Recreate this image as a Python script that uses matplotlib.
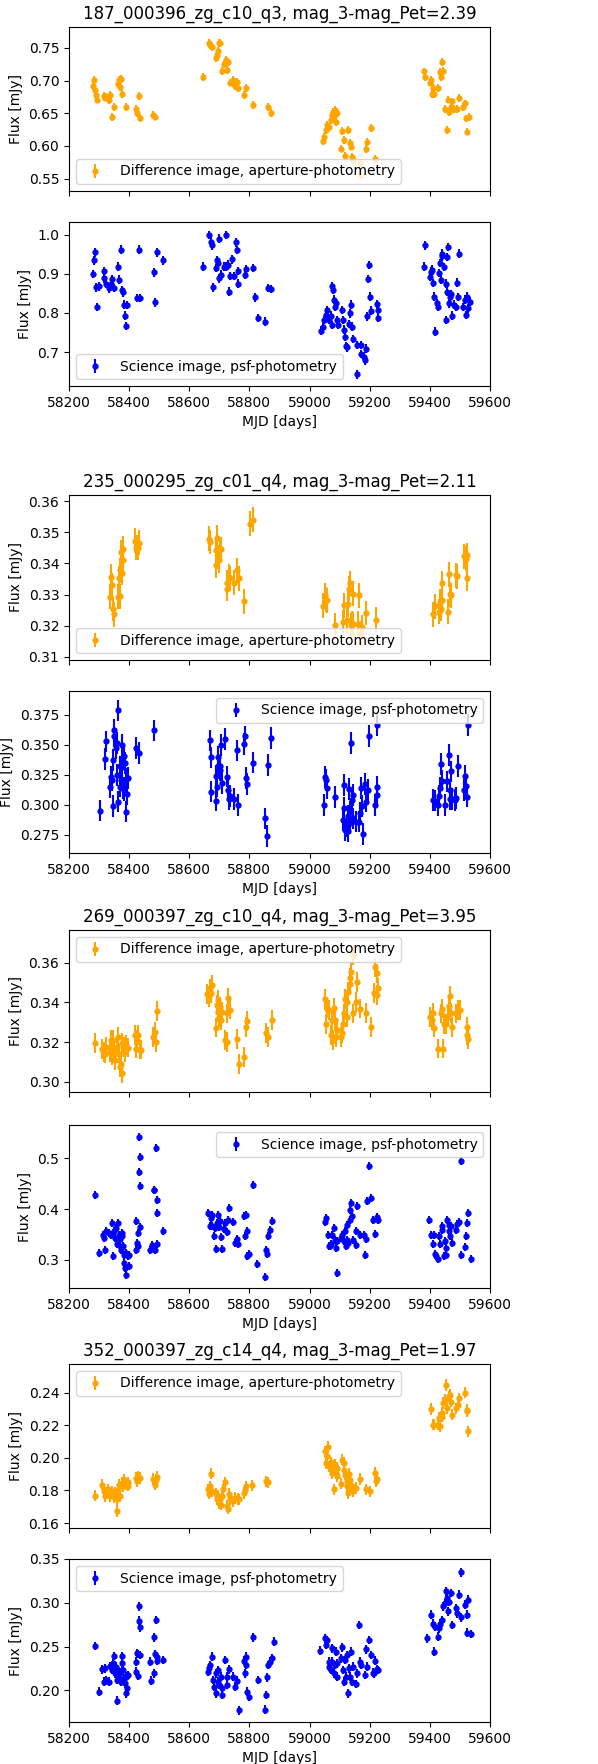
import matplotlib
matplotlib.use("Agg")
import matplotlib.pyplot as plt
from matplotlib.ticker import MultipleLocator

titles = [
    "187_000396_zg_c10_q3, mag_3-mag_Pet=2.39",
    "235_000295_zg_c01_q4, mag_3-mag_Pet=2.11",
    "269_000397_zg_c10_q4, mag_3-mag_Pet=3.95",
    "352_000397_zg_c14_q4, mag_3-mag_Pet=1.97",
]
diff_label = "Difference image, aperture-photometry"
sci_label = "Science image, psf-photometry"

# --- source 187 ---
p1_mjd = ([58281, 58283, 58288, 58291, 58293, 58315, 58320, 58324, 58332, 58335, 58342, 58351, 58363, 58366,
           58368, 58374, 58377, 58390, 58424, 58427, 58433, 58437, 58480, 58486]
          + [58646, 58666, 58670, 58675, 58688, 58693, 58696, 58699, 58701, 58709, 58715, 58721, 58726, 58730,
             58736, 58744, 58748, 58752, 58759, 58763, 58781, 58787, 58811, 58862, 58871]
          + [59043, 59047, 59054, 59058, 59065, 59070, 59074, 59077, 59082, 59085, 59089, 59092, 59106, 59109,
             59113, 59117, 59129, 59134, 59138, 59142, 59145, 59167, 59170, 59187, 59190, 59203, 59216]
          + [59380, 59385, 59401, 59405, 59408, 59411, 59415, 59428, 59433, 59437, 59440, 59444, 59451, 59456,
             59460, 59465, 59469, 59474, 59479, 59491, 59496, 59511, 59517, 59521, 59524, 59529])
p1_flux = ([0.691, 0.701, 0.685, 0.678, 0.671, 0.676, 0.674, 0.675, 0.670, 0.678, 0.644, 0.659, 0.694, 0.701,
            0.690, 0.702, 0.679, 0.659, 0.657, 0.650, 0.677, 0.643, 0.647, 0.645]
           + [0.705, 0.758, 0.755, 0.752, 0.734, 0.739, 0.746, 0.757, 0.758, 0.715, 0.726, 0.731, 0.716, 0.729,
              0.697, 0.701, 0.695, 0.691, 0.698, 0.689, 0.678, 0.688, 0.662, 0.660, 0.650]
           + [0.607, 0.614, 0.624, 0.632, 0.629, 0.640, 0.647, 0.652, 0.644, 0.655, 0.637, 0.650, 0.596, 0.623,
              0.609, 0.585, 0.624, 0.604, 0.599, 0.583, 0.579, 0.574, 0.555, 0.595, 0.606, 0.628, 0.580]
           + [0.714, 0.706, 0.697, 0.701, 0.680, 0.689, 0.680, 0.688, 0.713, 0.706, 0.729, 0.715, 0.657, 0.624,
              0.671, 0.652, 0.660, 0.668, 0.656, 0.656, 0.673, 0.659, 0.665, 0.642, 0.622, 0.644])
p1_err = 0.006

p2_mjd = ([58280, 58283, 58286, 58291, 58294, 58299, 58315, 58318, 58322, 58332, 58339, 58344, 58351, 58362,
           58366, 58372, 58375, 58380, 58384, 58387, 58389, 58392, 58427, 58435, 58433, 58482, 58486, 58491, 58511]
          + [58647, 58667, 58671, 58675, 58680, 58688, 58692, 58696, 58698, 58700, 58707, 58714, 58721, 58723,
             58728, 58731, 58736, 58742, 58748, 58755, 58759, 58763, 58763, 58785, 58788, 58811, 58820, 58828,
             58852, 58862, 58872]
          + [59038, 59043, 59047, 59054, 59058, 59065, 59070, 59074, 59076, 59077, 59082, 59085, 59089, 59092,
             59096, 59107, 59112, 59115, 59119, 59121, 59123, 59130, 59134, 59137, 59140, 59145, 59157, 59158,
             59170, 59172, 59180, 59185, 59187, 59190, 59194, 59197, 59202, 59204, 59223, 59226, 59229]
          + [59381, 59385, 59400, 59403, 59407, 59411, 59413, 59418, 59425, 59428, 59431, 59433, 59436, 59439,
             59442, 59446, 59455, 59455, 59457, 59459, 59458, 59462, 59467, 59471, 59474, 59479, 59486, 59489,
             59492, 59496, 59511, 59517, 59521, 59524, 59527, 59532])
p2_flux = ([0.900, 0.935, 0.955, 0.866, 0.815, 0.868, 0.889, 0.908, 0.875, 0.863, 0.875, 0.887, 0.864, 0.919,
            0.885, 0.962, 0.859, 0.853, 0.821, 0.793, 0.767, 0.820, 0.838, 0.838, 0.962, 0.904, 0.827, 0.955, 0.935]
           + [0.919, 1.000, 0.981, 0.973, 0.866, 0.915, 0.935, 0.928, 0.990, 0.889, 0.898, 0.919, 0.919, 1.000,
              0.924, 0.855, 0.895, 0.937, 0.895, 0.981, 0.961, 0.908, 0.875, 0.898, 0.913, 0.915, 0.840, 0.787,
              0.778, 0.864, 0.861]
           + [0.755, 0.763, 0.782, 0.795, 0.808, 0.782, 0.793, 0.769, 0.868, 0.859, 0.834, 0.815, 0.825, 0.782,
              0.769, 0.808, 0.782, 0.757, 0.739, 0.715, 0.712, 0.772, 0.799, 0.821, 0.765, 0.733, 0.643, 0.718,
              0.718, 0.695, 0.688, 0.679, 0.709, 0.791, 0.887, 0.923, 0.842, 0.806, 0.823, 0.787, 0.808]
           + [0.919, 0.973, 0.892, 0.906, 0.911, 0.877, 0.842, 0.752, 0.825, 0.815, 0.902, 0.928, 0.885, 0.945,
              0.952, 0.918, 0.875, 0.782, 0.855, 0.969, 0.943, 0.825, 0.842, 0.849, 0.793, 0.821, 0.815, 0.878,
              0.841, 0.952, 0.815, 0.834, 0.795, 0.842, 0.812, 0.829])
p2_err = 0.011

# --- source 235 ---
p3_mjd = ([58335, 58339, 58342, 58346, 58350, 58362, 58366, 58368, 58370, 58373, 58376, 58378, 58381, 58419,
           58424, 58431, 58434]
          + [58665, 58670, 58688, 58690, 58693, 58697, 58700, 58703, 58706, 58724, 58727, 58732, 58736, 58748,
             58759, 58766, 58781, 58803, 58812]
          + [59045, 59051, 59055, 59059, 59083, 59111, 59115, 59123, 59127, 59131, 59135, 59138, 59142, 59144,
             59146, 59162, 59166, 59170, 59173, 59187, 59220]
          + [59411, 59416, 59429, 59433, 59437, 59440, 59442, 59460, 59465, 59467, 59469, 59486, 59491, 59514,
             59519, 59523, 59525])
p3_flux = ([0.3293, 0.3357, 0.3330, 0.3255, 0.3237, 0.3293, 0.3352, 0.3295, 0.3378, 0.3437, 0.3370, 0.3448,
            0.3410, 0.3473, 0.3451, 0.3451, 0.3466]
           + [0.3480, 0.3469, 0.3394, 0.3443, 0.3483, 0.3421, 0.3410, 0.3445, 0.3445, 0.3338, 0.3319, 0.3357,
              0.3352, 0.3338, 0.3378, 0.3352, 0.3278, 0.3528, 0.3541]
           + [0.3264, 0.3298, 0.3284, 0.3282, 0.3202, 0.3212, 0.3266, 0.3218, 0.3269, 0.3319, 0.3336, 0.3202,
              0.3209, 0.3303, 0.3205, 0.3207, 0.3298, 0.3175, 0.3196, 0.3241, 0.3220]
           + [0.3237, 0.3263, 0.3245, 0.3277, 0.3255, 0.3336, 0.3282, 0.3245, 0.3366, 0.3301, 0.3298, 0.3362,
              0.3359, 0.3423, 0.3416, 0.3427, 0.3352])
p3_err = 0.004

p4_mjd = ([58304, 58320, 58324, 58335, 58339, 58343, 58346, 58348, 58346, 58351, 58355, 58358, 58361, 58363,
           58364, 58369, 58371, 58373, 58375, 58377, 58380, 58382, 58384, 58386, 58389, 58391, 58393, 58395,
           58422, 58433, 58482]
          + [58668, 58671, 58673, 58688, 58690, 58692, 58694, 58697, 58701, 58703, 58705, 58708, 58719, 58726,
             58730, 58733, 58736, 58748, 58760, 58763, 58781, 58786, 58788, 58793, 58812, 58851, 58857, 58863, 58873]
          + [59048, 59051, 59055, 59059, 59084, 59111, 59114, 59116, 59118, 59123, 59127, 59129, 59131, 59134,
             59136, 59139, 59141, 59143, 59145, 59156, 59163, 59167, 59170, 59174, 59178, 59185, 59189, 59194,
             59198, 59218, 59223, 59225, 59223]
          + [59411, 59416, 59426, 59431, 59435, 59438, 59442, 59451, 59458, 59464, 59466, 59468, 59471, 59475,
             59482, 59488, 59494, 59512, 59517, 59519, 59524, 59527])
p4_flux = ([0.2953, 0.3382, 0.3530, 0.3148, 0.3237, 0.3210, 0.3377, 0.3572, 0.2992, 0.3627, 0.3474, 0.3251,
            0.3516, 0.3789, 0.3029, 0.3154, 0.3321, 0.3210, 0.3502, 0.3315, 0.3140, 0.3405, 0.3126, 0.3349,
            0.3215, 0.2945, 0.3093, 0.3223, 0.3474, 0.3432, 0.3622]
           + [0.3538, 0.3396, 0.3112, 0.3243, 0.3037, 0.3154, 0.3327, 0.3399, 0.3293, 0.3327, 0.3502, 0.3182,
              0.3549, 0.3237, 0.3126, 0.3048, 0.3076, 0.3048, 0.3455, 0.2998, 0.3510, 0.3572, 0.3224, 0.3173,
              0.3354, 0.2889, 0.2742, 0.3332, 0.3558]
           + [0.3001, 0.3232, 0.3210, 0.3140, 0.3065, 0.2875, 0.3165, 0.2973, 0.2792, 0.2820, 0.2909, 0.2780,
              0.3132, 0.2945, 0.2847, 0.3516, 0.3043, 0.2889, 0.3084, 0.2861, 0.2861, 0.2931, 0.3140, 0.2992,
              0.2758, 0.3176, 0.3029, 0.3126, 0.3577, 0.3001, 0.3084, 0.3154, 0.3669]
           + [0.3043, 0.3037, 0.3001, 0.3076, 0.3140, 0.3343, 0.3204, 0.3001, 0.3196, 0.3419, 0.3126, 0.3048,
              0.3280, 0.3048, 0.3043, 0.3056, 0.3327, 0.3126, 0.3243, 0.3159, 0.3070, 0.3669])
p4_err = 0.009

# --- source 269 ---
p5_mjd = ([58285, 58311, 58315, 58319, 58324, 58335, 58339, 58342, 58346, 58350, 58353, 58358, 58362, 58365,
           58369, 58373, 58375, 58377, 58382, 58386, 58391, 58397, 58419, 58424, 58427, 58431, 58435, 58440,
           58480, 58485, 58488, 58493]
          + [58659, 58664, 58668, 58672, 58677, 58688, 58692, 58695, 58697, 58700, 58703, 58706, 58710, 58719,
             58724, 58726, 58730, 58735, 58759, 58764, 58781, 58787, 58791, 58855, 58863, 58874]
          + [59051, 59055, 59059, 59065, 59070, 59074, 59079, 59082, 59085, 59089, 59092, 59105, 59109, 59112,
             59115, 59119, 59123, 59126, 59129, 59133, 59136, 59138, 59143, 59145, 59154, 59158, 59167, 59187,
             59203, 59214, 59218, 59223, 59225, 59228]
          + [59400, 59406, 59409, 59413, 59428, 59436, 59440, 59444, 59446, 59455, 59460, 59464, 59467, 59471,
             59475, 59486, 59494, 59500, 59522, 59525, 59528])
p5_flux = ([0.3195, 0.3163, 0.3150, 0.3142, 0.3175, 0.3150, 0.3209, 0.3133, 0.3212, 0.3167, 0.3108, 0.3175,
            0.3226, 0.3142, 0.3074, 0.3091, 0.3044, 0.3195, 0.3175, 0.3150, 0.3184, 0.3172, 0.3234, 0.3167,
            0.3212, 0.3234, 0.3162, 0.3162, 0.3226, 0.3251, 0.3201, 0.3356]
           + [0.3442, 0.3425, 0.3470, 0.3448, 0.3487, 0.3273, 0.3386, 0.3352, 0.3411, 0.3327, 0.3378, 0.3310,
              0.3352, 0.3212, 0.3201, 0.3344, 0.3420, 0.3364, 0.3217, 0.3088, 0.3125, 0.3276, 0.3307, 0.3246,
              0.3226, 0.3310]
           + [0.3415, 0.3290, 0.3369, 0.3361, 0.3234, 0.3310, 0.3212, 0.3374, 0.3310, 0.3226, 0.3263, 0.3226,
              0.3246, 0.3293, 0.3344, 0.3415, 0.3324, 0.3403, 0.3453, 0.3495, 0.3521, 0.3554, 0.3639, 0.3344,
              0.3403, 0.3504, 0.3369, 0.3347, 0.3276, 0.3448, 0.3576, 0.3546, 0.3437, 0.3475]
           + [0.3327, 0.3310, 0.3347, 0.3273, 0.3167, 0.3344, 0.3369, 0.3167, 0.3290, 0.3290, 0.3327, 0.3381,
              0.3431, 0.3347, 0.3276, 0.3344, 0.3361, 0.3361, 0.3276, 0.3234, 0.3217])
p5_err = 0.005

p6_mjd = ([58287, 58300, 58312, 58317, 58320, 58324, 58333, 58339, 58344, 58346, 58348, 58352, 58355, 58360,
           58363, 58365, 58369, 58371, 58373, 58375, 58377, 58380, 58382, 58384, 58386, 58389, 58391, 58395,
           58400, 58398, 58422, 58424, 58427, 58431, 58433, 58435, 58434, 58435, 58437, 58429, 58471, 58475,
           58481, 58484, 58486, 58491, 58493, 58491, 58488, 58511]
          + [58663, 58669, 58672, 58675, 58677, 58681, 58685, 58690, 58692, 58696, 58699, 58703, 58706, 58710,
             58715, 58719, 58724, 58728, 58733, 58746, 58751, 58759, 58763, 58781, 58786, 58788, 58791, 58793,
             58797, 58812, 58826, 58852, 58855, 58859, 58863, 58870, 58874]
          + [59051, 59055, 59060, 59063, 59068, 59072, 59076, 59081, 59084, 59087, 59090, 59092, 59105, 59109,
             59114, 59117, 59120, 59123, 59126, 59129, 59133, 59136, 59138, 59140, 59143, 59156, 59158, 59156,
             59167, 59180, 59183, 59187, 59190, 59198, 59203, 59212, 59216, 59223, 59227]
          + [59398, 59405, 59410, 59413, 59418, 59422, 59427, 59431, 59433, 59439, 59442, 59446, 59449, 59453,
             59455, 59458, 59462, 59464, 59467, 59471, 59475, 59486, 59491, 59498, 59502, 59505, 59516, 59519,
             59522, 59528, 59536])
p6_flux = ([0.4283, 0.3132, 0.3493, 0.3428, 0.3184, 0.3559, 0.3526, 0.3493, 0.3724, 0.3066, 0.3559, 0.3428,
            0.3625, 0.3316, 0.3724, 0.3493, 0.3276, 0.3408, 0.3184, 0.3526, 0.3461, 0.3263, 0.3099, 0.2934,
            0.2836, 0.2704, 0.3132, 0.3066, 0.2868, 0.3099, 0.3757, 0.3197, 0.3329, 0.3526, 0.5421, 0.5026,
            0.4724, 0.4447, 0.3645, 0.3276, 0.3197, 0.3296, 0.4368, 0.4382, 0.3184, 0.4184, 0.3921, 0.3316,
            0.5204, 0.3572]
           + [0.3921, 0.3671, 0.3822, 0.3888, 0.3671, 0.3461, 0.3625, 0.3210, 0.3724, 0.3888, 0.3645, 0.3757,
              0.3447, 0.3210, 0.3605, 0.3724, 0.3539, 0.3789, 0.4020, 0.3737, 0.3329, 0.3408, 0.3316, 0.3855,
              0.3461, 0.3888, 0.3559, 0.3066, 0.3118, 0.4480, 0.2921, 0.2658, 0.3184, 0.3118, 0.3461, 0.3592,
              0.3757]
           + [0.3737, 0.3822, 0.3493, 0.3263, 0.3263, 0.3316, 0.3493, 0.3625, 0.3395, 0.3230, 0.3362, 0.2737,
              0.3428, 0.3493, 0.3362, 0.3559, 0.3263, 0.3691, 0.3395, 0.3329, 0.3789, 0.3987, 0.4118, 0.3855,
              0.3395, 0.3296, 0.4066, 0.3559, 0.3493, 0.3493, 0.3099, 0.3408, 0.4151, 0.4842, 0.4217, 0.3789,
              0.3513, 0.3842, 0.3789]
           + [0.3789, 0.3493, 0.3316, 0.3493, 0.3118, 0.3079, 0.3013, 0.3461, 0.3316, 0.3592, 0.3658, 0.3079,
              0.3362, 0.3099, 0.3230, 0.3776, 0.3559, 0.3691, 0.3461, 0.3671, 0.3329, 0.3579, 0.3711, 0.3737,
              0.4941, 0.3099, 0.3250, 0.3474, 0.3724, 0.3921, 0.3013])
p6_err = 0.008

# --- source 352 ---
p7_mjd = ([58285, 58311, 58315, 58319, 58324, 58331, 58335, 58339, 58344, 58348, 58353, 58358, 58360, 58364,
           58366, 58371, 58375, 58380, 58382, 58386, 58391, 58395, 58397, 58422, 58426, 58431, 58435, 58480,
           58485, 58488, 58493]
          + [58663, 58666, 58670, 58673, 58676, 58688, 58692, 58695, 58698, 58702, 58705, 58709, 58713, 58719,
             58724, 58728, 58733, 58735, 58746, 58751, 58762, 58764, 58781, 58786, 58790, 58810, 58855, 58863]
          + [59051, 59055, 59059, 59062, 59065, 59070, 59074, 59076, 59081, 59084, 59087, 59090, 59092, 59106,
             59109, 59113, 59116, 59119, 59123, 59125, 59128, 59132, 59134, 59136, 59140, 59145, 59156, 59167,
             59187, 59200, 59216, 59220, 59225]
          + [59403, 59409, 59413, 59427, 59431, 59435, 59439, 59442, 59444, 59449, 59453, 59458, 59462, 59467,
             59471, 59473, 59486, 59492, 59498, 59516, 59522, 59524, 59528])
p7_flux = ([0.1769, 0.1836, 0.1795, 0.1765, 0.1785, 0.1806, 0.1765, 0.1781, 0.1795, 0.1761, 0.1789, 0.1745,
            0.1673, 0.1801, 0.1836, 0.1765, 0.1846, 0.1826, 0.1867, 0.1846, 0.1836, 0.1850, 0.1830, 0.1877,
            0.1856, 0.1887, 0.1877, 0.1871, 0.1836, 0.1867, 0.1883]
           + [0.1806, 0.1781, 0.1826, 0.1903, 0.1795, 0.1781, 0.1749, 0.1765, 0.1724, 0.1745, 0.1714, 0.1769,
              0.1806, 0.1850, 0.1704, 0.1688, 0.1781, 0.1745, 0.1734, 0.1755, 0.1749, 0.1745, 0.1785, 0.1801,
              0.1826, 0.1832, 0.1856, 0.1850]
           + [0.2040, 0.1968, 0.2009, 0.2066, 0.1948, 0.1973, 0.1938, 0.1907, 0.1806, 0.1958, 0.1907, 0.1887,
              0.1938, 0.1842, 0.1989, 0.1968, 0.1928, 0.1897, 0.1856, 0.1826, 0.1785, 0.1903, 0.1867, 0.1816,
              0.1826, 0.1795, 0.1816, 0.1871, 0.1806, 0.1795, 0.1907, 0.1856, 0.1871]
           + [0.2298, 0.2203, 0.2203, 0.2203, 0.2243, 0.2192, 0.2253, 0.2274, 0.2335, 0.2355, 0.2447, 0.2304,
              0.2376, 0.2386, 0.2345, 0.2264, 0.2304, 0.2325, 0.2365, 0.2400, 0.2294, 0.2284, 0.2162])
p7_err = 0.0035

p8_mjd = ([58285, 58300, 58311, 58315, 58320, 58324, 58333, 58338, 58342, 58346, 58349, 58352, 58355, 58358,
           58360, 58363, 58366, 58369, 58372, 58375, 58377, 58380, 58382, 58385, 58389, 58391, 58394, 58397,
           58422, 58424, 58427, 58431, 58433, 58434, 58435, 58437, 58430, 58471, 58474, 58481, 58484, 58486,
           58488, 58491, 58493, 58511]
          + [58663, 58666, 58670, 58675, 58679, 58683, 58688, 58690, 58694, 58697, 58699, 58704, 58708, 58710,
             58719, 58724, 58726, 58733, 58746, 58751, 58759, 58766, 58781, 58786, 58788, 58790, 58792, 58799,
             58812, 58828, 58852, 58855, 58859, 58863, 58870, 58875, 58881]
          + [59036, 59051, 59055, 59059, 59063, 59065, 59070, 59074, 59076, 59081, 59084, 59087, 59090, 59092,
             59106, 59109, 59112, 59115, 59119, 59121, 59124, 59127, 59131, 59134, 59137, 59141, 59144, 59156,
             59158, 59163, 59167, 59172, 59183, 59187, 59190, 59198, 59203, 59210, 59214, 59218, 59223, 59227]
          + [59389, 59403, 59409, 59413, 59418, 59426, 59431, 59435, 59440, 59444, 59449, 59453, 59458, 59460,
             59464, 59469, 59473, 59486, 59491, 59498, 59502, 59504, 59517, 59522, 59524, 59528, 59536])
p8_flux = ([0.2508, 0.1985, 0.2240, 0.2099, 0.2252, 0.2118, 0.2099, 0.2279, 0.2233, 0.2309, 0.2393, 0.2195,
            0.2271, 0.2118, 0.1882, 0.2233, 0.2137, 0.2195, 0.2099, 0.2309, 0.2393, 0.2233, 0.2137, 0.2080,
            0.1966, 0.2156, 0.2023, 0.2176, 0.2328, 0.2214, 0.2424, 0.2416, 0.2958, 0.2798, 0.2721, 0.2405,
            0.2164, 0.2328, 0.2111, 0.2607, 0.2195, 0.2416, 0.2805, 0.2340, 0.2385, 0.2347]
           + [0.2214, 0.2252, 0.2290, 0.2385, 0.2118, 0.2042, 0.2195, 0.1966, 0.2099, 0.2233, 0.2061, 0.2156,
              0.1947, 0.2023, 0.2347, 0.2156, 0.2061, 0.2240, 0.2156, 0.2042, 0.2111, 0.1775, 0.2340, 0.2195,
              0.2385, 0.2290, 0.1985, 0.1927, 0.2607, 0.2118, 0.1782, 0.1947, 0.2149, 0.2290, 0.2328, 0.2366,
              0.2557]
           + [0.2454, 0.2595, 0.2519, 0.2576, 0.2328, 0.2271, 0.2233, 0.2481, 0.2328, 0.2195, 0.2290, 0.2443,
              0.2156, 0.2309, 0.2366, 0.2492, 0.2233, 0.2099, 0.2347, 0.2156, 0.2405, 0.1966, 0.2252, 0.2156,
              0.2443, 0.2099, 0.2271, 0.2073, 0.2195, 0.2748, 0.2328, 0.2290, 0.2176, 0.2469, 0.2271, 0.2576,
              0.2405, 0.2202, 0.2195, 0.2340, 0.2240, 0.2233]
           + [0.2595, 0.2863, 0.2760, 0.2443, 0.2729, 0.2615, 0.2710, 0.2760, 0.2805, 0.2958, 0.2996, 0.3130,
              0.3053, 0.2901, 0.3015, 0.3111, 0.2748, 0.2939, 0.2882, 0.3092, 0.3347, 0.2836, 0.2977, 0.2863,
              0.2660, 0.3034, 0.2645])
p8_err = 0.005

panels = [
    (p1_mjd, p1_flux, p1_err, "orange", diff_label, "lower left", (0.531, 0.782), 0.05),
    (p2_mjd, p2_flux, p2_err, "blue", sci_label, "lower left", (0.613, 1.033), 0.1),
    (p3_mjd, p3_flux, p3_err, "orange", diff_label, "lower left", (0.309, 0.362), 0.01),
    (p4_mjd, p4_flux, p4_err, "blue", sci_label, "upper right", (0.260, 0.395), 0.025),
    (p5_mjd, p5_flux, p5_err, "orange", diff_label, "upper left", (0.2948, 0.3765), 0.02),
    (p6_mjd, p6_flux, p6_err, "blue", sci_label, "upper right", (0.244, 0.566), 0.1),
    (p7_mjd, p7_flux, p7_err, "orange", diff_label, "upper left", (0.157, 0.2575), 0.02),
    (p8_mjd, p8_flux, p8_err, "blue", sci_label, "upper left", (0.164, 0.350), 0.05),
]

# axes extents in pixels (top, bottom)
W, H = 598, 1764
rows_px = [(27, 191), (222, 386), (495, 660), (691, 853),
           (930, 1092), (1125, 1288), (1364, 1528), (1559, 1722)]
left_px, right_px = 69, 490

fig = plt.figure(figsize=(W / 100, H / 100), dpi=100)

for i, (mjd, flux, err, color, label, loc, ylim, ystep) in enumerate(panels):
    top, bot = rows_px[i]
    ax = fig.add_axes([left_px / W, 1 - bot / H, (right_px - left_px) / W, (bot - top) / H])
    ax.errorbar(mjd, flux, yerr=err, fmt="o", color=color, ms=3.5, elinewidth=1.5, label=label)
    ax.set_xlim(58200, 59600)
    ax.set_ylim(*ylim)
    ax.xaxis.set_major_locator(MultipleLocator(200))
    ax.yaxis.set_major_locator(MultipleLocator(ystep))
    ax.set_ylabel("Flux [mJy]")
    ax.legend(loc=loc)
    if i % 2 == 0:
        ax.set_title(titles[i // 2], fontsize=12)
        ax.tick_params(labelbottom=False)
    else:
        ax.set_xlabel("MJD [days]")

fig.savefig("out.png", dpi=100)
plt.close(fig)
